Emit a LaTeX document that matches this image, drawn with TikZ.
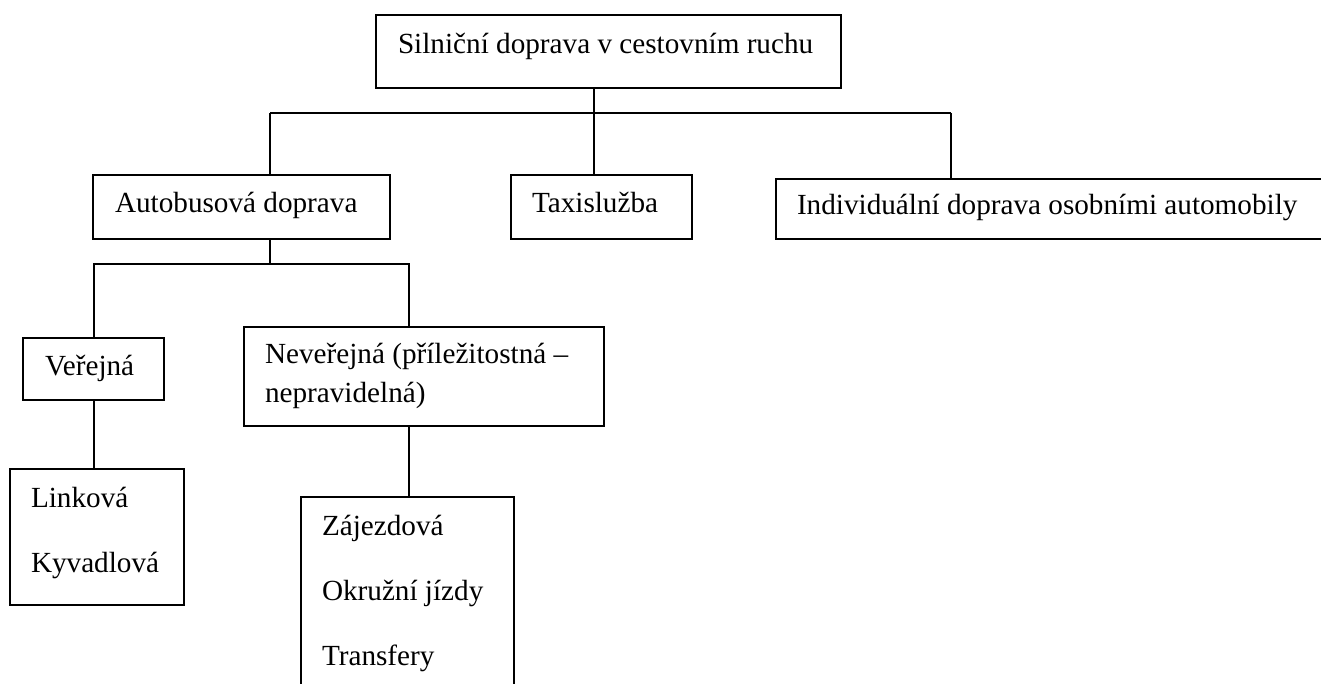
\documentclass[tikz,border=0pt]{standalone}
\usepackage{fontspec}
\setmainfont{Liberation Serif}
\begin{document}
\begin{tikzpicture}[x=1pt,y=-1pt,
  box/.style={draw, line width=1.7pt, rectangle, inner sep=0pt, outer sep=0pt, anchor=north west},
  lbl/.style={anchor=base west, inner sep=0pt, outer sep=0pt, font=\fontsize{29.2}{38}\selectfont},
  conn/.style={line width=1.7pt}]
\clip (0,0) rectangle (1321,684);
\fill[white] (0,0) rectangle (1321,684);
% boxes
\node[box, minimum width=465pt, minimum height=73pt] (top) at (376,15) {};
\node[box, minimum width=297pt, minimum height=64pt] (auto) at (93,175) {};
\node[box, minimum width=181pt, minimum height=64pt] (taxi) at (511,175) {};
\node[box, minimum width=600pt, minimum height=60pt] (indiv) at (776,179) {};
\node[box, minimum width=141pt, minimum height=62pt] (ver) at (23,338) {};
\node[box, minimum width=360pt, minimum height=99pt] (never) at (244,327) {};
\node[box, minimum width=213pt, minimum height=250pt] (zaj) at (301,497) {};
\node[box, minimum width=174pt, minimum height=136pt] (link) at (10,469) {};
% texts
\node[lbl] (ttop) at (398,54) {Silniční doprava v cestovním ruchu};
\node[lbl] (tauto) at (115,213) {Autobusová doprava};
\node[lbl] (ttaxi) at (532,213) {Taxislužba};
\node[lbl] (tindiv) at (797,215) {Individuální doprava osobními automobily};
\node[lbl] (tver) at (45,375) {Veřejná};
\node[lbl] (tnev1) at (265,363) {Neveřejná (příležitostná –};
\node[lbl] (tnev2) at (265,402) {nepravidelná)};
\node[lbl] (tlink) at (31,507) {Linková};
\node[lbl] (tkyv) at (31,572) {Kyvadlová};
\node[lbl] (tzaj) at (322,535) {Zájezdová};
\node[lbl] (tokr) at (322,600) {Okružní jízdy};
\node[lbl] (ttra) at (322,665) {Transfery};
% connectors
\coordinate (j1) at (594,113);
\coordinate (ja) at (270,113);
\coordinate (jc) at (951,113);
\draw[conn] (top.south -| j1) -- (j1);
\draw[conn] (ja) -- (jc);
\draw[conn] (ja) -- (ja |- auto.north);
\draw[conn] (j1) -- (j1 |- taxi.north);
\draw[conn] (jc) -- (jc |- indiv.north);
\coordinate (k0) at (270,264);
\coordinate (k1) at (94,264);
\coordinate (k2) at (409,264);
\draw[conn] (auto.south -| k0) -- (k0);
\draw[conn] (k1 |- ver.north) -- (k1) -- (k2) -- (k2 |- never.north);
\draw[conn] (ver.south -| k1) -- (k1 |- link.north);
\draw[conn] (never.south -| k2) -- (k2 |- zaj.north);
\end{tikzpicture}
\end{document}
